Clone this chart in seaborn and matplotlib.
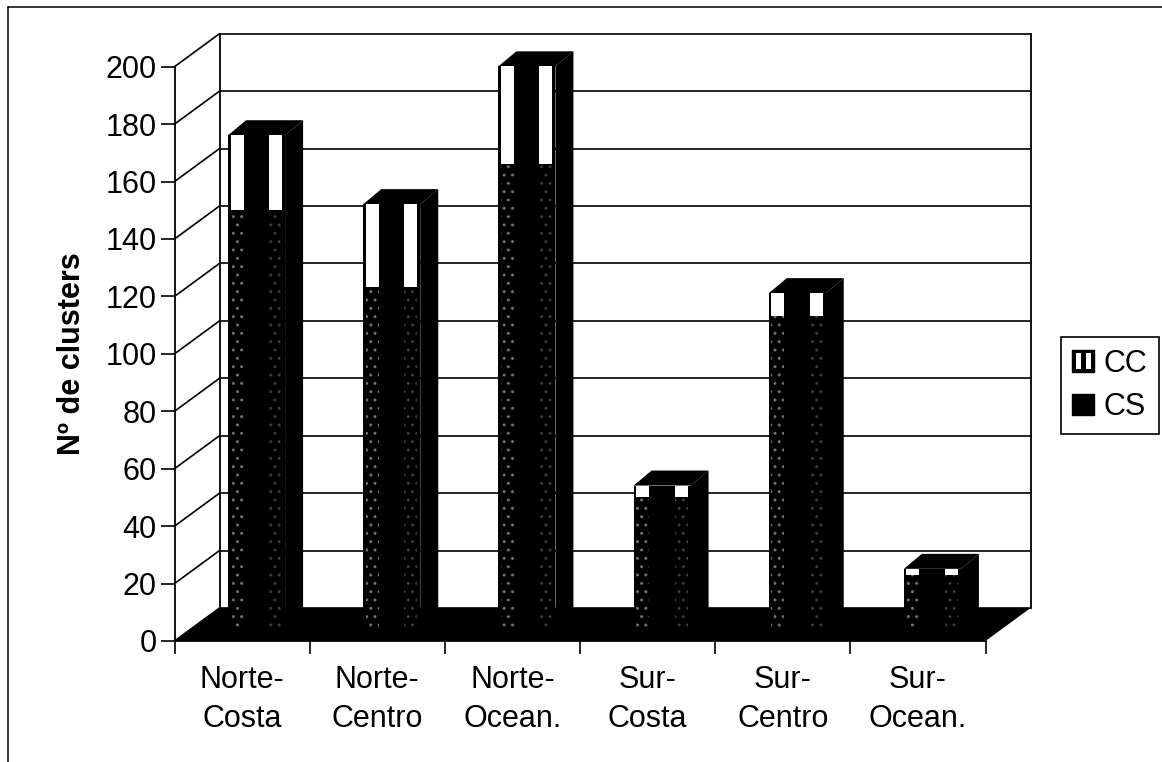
import matplotlib
matplotlib.use('Agg')
import matplotlib.pyplot as plt
import seaborn as sns
import numpy as np
from matplotlib.legend_handler import HandlerBase
from matplotlib.lines import Line2D
from matplotlib.patches import Patch, Rectangle
from matplotlib.transforms import Affine2D

regions = ['Norte-\nCosta', 'Norte-\nCentro', 'Norte-\nOcean.', 'Sur-\nCosta', 'Sur-\nCentro', 'Sur-\nOcean.']
cs = np.array([147, 120, 163, 47, 110, 20])
cc = np.array([26, 29, 34, 4, 8, 2])
y_ticks = [0, 20, 40, 60, 80, 100, 120, 140, 160, 180, 200]


class StripHandler(HandlerBase):
    # legend key for CC: black box with the two white strips of the bars
    def create_artists(self, legend, orig_handle, xd, yd, width, height, fontsize, trans):
        box = Rectangle((-xd, -yd), width, height, facecolor='black', edgecolor='black', lw=1, transform=trans)
        left = Rectangle((-xd + 0.18 * width, -yd + 0.14 * height), 0.22 * width, 0.72 * height,
                         facecolor='white', lw=0, transform=trans)
        right = Rectangle((-xd + 0.62 * width, -yd + 0.14 * height), 0.22 * width, 0.72 * height,
                          facecolor='white', lw=0, transform=trans)
        return [box, left, right]


sns.set_theme(style='white')
plt.rcParams['font.family'] = ['Liberation Sans', 'DejaVu Sans']
plt.rcParams['hatch.linewidth'] = 1.0

W, H = 1162, 762
fig = plt.figure(figsize=(W / 100, H / 100), dpi=100, facecolor='white')
ax = fig.add_axes([174.5 / W, (H - 641) / H, 811 / W, 574.3 / H])
ax.patch.set_alpha(0)

# the 3D look: everything is the front plane pushed back by some pixels
wall_tr = ax.transData + Affine2D().translate(45, 33)
bar_tr = ax.transData + Affine2D().translate(14.5, 9)

bar_w = 57 / 135.17
depth_x = 18 / 135.17
depth_y = 15 / 2.872
wall_x = 45 / 135.17
wall_y = 33 / 2.872
strip_w = 13 / 135.17
strip_off = [-19.5 / 135.17, 19 / 135.17]

totals = cs + cc
sns.barplot(x=regions, y=totals, order=regions, color='black', saturation=1, width=bar_w,
            edgecolor='black', linewidth=0, ax=ax, zorder=3)
for p in ax.patches:
    p.set_transform(bar_tr)
    p.set_clip_on(False)

xpos = np.arange(len(regions))

# walls and gridlines
for t in y_ticks:
    ax.plot([-0.5, 5.5], [t, t], transform=wall_tr, color='black', lw=1.2, clip_on=False, zorder=1)
    ax.plot([-0.5, -0.5 + wall_x], [t, t + wall_y], color='black', lw=1.2, clip_on=False, zorder=1)
ax.plot([-0.5, -0.5], [0, 200], transform=wall_tr, color='black', lw=1.3, clip_on=False, zorder=1)
ax.plot([5.5, 5.5], [0, 200], transform=wall_tr, color='black', lw=1.3, clip_on=False, zorder=1)

# floor
ax.fill([-0.5, 5.5, 5.5 + wall_x, -0.5 + wall_x], [0, 0, wall_y, wall_y], color='black', lw=0, clip_on=False, zorder=2)

# bar sides and tops
for x, top in zip(xpos, totals):
    r = x + bar_w / 2
    l = x - bar_w / 2
    ax.fill([r, r + depth_x, r + depth_x, r], [0, depth_y, top + depth_y, top], color='black', lw=0,
            transform=bar_tr, clip_on=False, zorder=3)
    ax.fill([l, l + depth_x, r + depth_x, r], [top, top + depth_y, top + depth_y, top], color='black', lw=0,
            transform=bar_tr, clip_on=False, zorder=3)

# light strips left by the scan on the front faces
for off, spot in zip(strip_off, ['#6e6e6e', '#3a3a3a']):
    ax.bar(xpos + off, cc, bottom=cs, width=strip_w, color='white', lw=0, transform=bar_tr, clip_on=False, zorder=4)
    ax.bar(xpos + off, cs, width=strip_w, facecolor='black', edgecolor=spot, hatch='..', lw=0,
           transform=bar_tr, clip_on=False, zorder=4)

ax.set_xlim(-0.5, 5.5)
ax.set_ylim(0, 200)
ax.set_yticks(y_ticks)
ax.set_xticks(xpos)
ax.set_xticklabels(regions, fontsize=22, color='black', linespacing=1.42)
ax.set_xticks(np.arange(-0.5, 6), minor=True)
ax.tick_params(axis='x', which='major', length=0, pad=17)
ax.tick_params(axis='x', which='minor', length=9, width=1.2, color='black', bottom=True)
ax.tick_params(axis='y', length=10, width=1.2, color='black', labelsize=22, labelcolor='black', left=True, pad=3)
ax.set_xlabel('')
ax.set_ylabel('')
sns.despine(ax=ax, top=True, right=True)
ax.spines['left'].set_color('black')
ax.spines['left'].set_linewidth(1.3)
ax.spines['bottom'].set_color('black')

fig.text(72 / W, 1 - 354 / H, 'Nº de clusters', rotation=90, ha='center', va='center',
         fontsize=22, fontweight='bold', color='black')

cc_key = Patch(label='CC')
cs_key = Patch(facecolor='black', edgecolor='black', label='CS')
leg = fig.legend(handles=[cc_key, cs_key], handler_map={cc_key: StripHandler()}, loc='upper left',
                 bbox_to_anchor=(1060.5 / W, 1 - 337 / H), bbox_transform=fig.transFigure, fontsize=22,
                 frameon=True, fancybox=False, framealpha=1, edgecolor='black', borderpad=0.385,
                 labelspacing=0.44, handlelength=0.72, handleheight=0.7, handletextpad=0.3, borderaxespad=0)
leg.get_frame().set_linewidth(1.2)
for t in leg.get_texts():
    t.set_color('black')

# outer frame of the chart area
fig.add_artist(Line2D([8 / W, 8 / W], [0, 1 - 7 / H], color='black', lw=1.1))
fig.add_artist(Line2D([8 / W, 1], [1 - 7 / H, 1 - 7 / H], color='black', lw=1.1))

fig.savefig('out.png', dpi=100)
